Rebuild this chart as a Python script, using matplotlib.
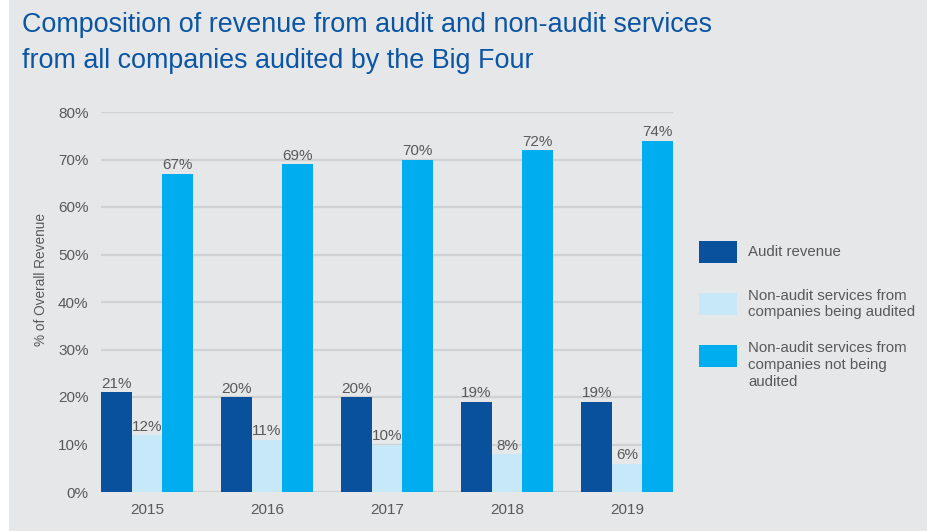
import matplotlib.pyplot as plt
import numpy as np
from matplotlib.patches import Rectangle

plt.rcParams['font.family'] = ['Liberation Sans', 'DejaVu Sans']

## DATOS

years = ["2015", "2016", "2017", "2018", "2019"]
audit = [21, 20, 20, 19, 19]
non_audit_audited = [12, 11, 10, 8, 6]
non_audit_not_audited = [67, 69, 70, 72, 74]
series_labels = ["Audit revenue",
                 "Non-audit services from\ncompanies being audited",
                 "Non-audit services from\ncompanies not being\naudited"]
yticks = [0, 10, 20, 30, 40, 50, 60, 70, 80]

## ESTILO

bg = "#e6e7e9"
gris = "#595959"
colores = ["#0a519d", "#c6e8f8", "#00aeef"]

fig = plt.figure(figsize=(9.28, 5.31), dpi=100)
fig.patch.set_facecolor("white")
# fondo gris con franja blanca a la izquierda
fig.add_artist(Rectangle((9 / 928, 0), 1, 1, transform=fig.transFigure,
                         facecolor=bg, edgecolor="none", zorder=-10))

ax = fig.add_axes([101 / 928, 1 - 492 / 531, 572 / 928, 380 / 531])
ax.set_facecolor(bg)

x = np.arange(len(years))
w = 0.254
series = [audit, non_audit_audited, non_audit_not_audited]
for i, vals in enumerate(series):
    barras = ax.bar(x + (i - 1) * w, vals, w, color=colores[i], zorder=3)
    ax.bar_label(barras, labels=[f"{v}%" for v in vals], padding=1,
                 color=gris, fontsize=11, zorder=4)

ax.set_xlim(-1.5 * w, len(years) - 1 + 1.5 * w)
ax.set_ylim(0, 80)
ax.set_yticks(yticks)
ax.set_yticklabels([f"{t}%" for t in yticks], color=gris, fontsize=11)
ax.set_xticks(x)
ax.set_xticklabels(years, color=gris, fontsize=11)
ax.tick_params(length=0, pad=8)
ax.tick_params(axis="y", pad=9)
ax.grid(axis="y", color="#d0d1d3", linewidth=1.6, zorder=0)
for s in ax.spines.values():
    s.set_visible(False)
ax.set_ylabel("% of Overall Revenue", color=gris, fontsize=9.8, labelpad=12)
ax.yaxis.set_label_coords(-0.092, (492 - 280) / 380)

## TITULO

fig.text(22 / 928, 1 - 12 / 531,
         "Composition of revenue from audit and non-audit services\nfrom all companies audited by the Big Four",
         color="#0b55a3", fontsize=19.4, va="top", ha="left", linespacing=1.52)

## LEYENDA

patch_top = [241, 293, 345]
for i in range(3):
    fig.add_artist(Rectangle((699 / 928, 1 - (patch_top[i] + 22) / 531), 38 / 928, 22 / 531,
                             transform=fig.transFigure, facecolor=colores[i], edgecolor="none"))
fig.text(748 / 928, 1 - 252 / 531, series_labels[0], color=gris, fontsize=10.8, va="center")
fig.text(748 / 928, 1 - 304 / 531, series_labels[1], color=gris, fontsize=10.8, va="center",
         linespacing=1.25)
fig.text(748 / 928, 1 - 341 / 531, series_labels[2], color=gris, fontsize=10.8, va="top",
         linespacing=1.25)

fig.savefig("out.png", dpi=100, facecolor=fig.get_facecolor())
